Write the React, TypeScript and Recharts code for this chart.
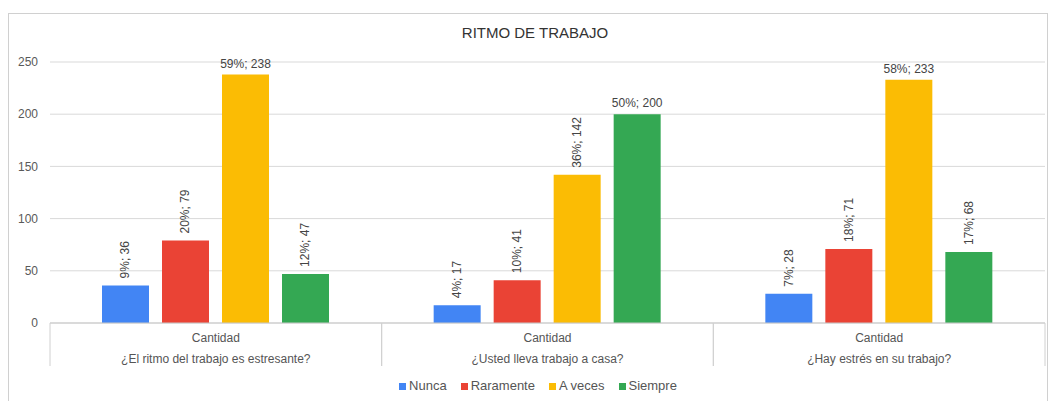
import React from 'react';
import { BarChart, Bar, XAxis, YAxis, CartesianGrid, Legend, LabelList } from 'recharts';

const CATEGORIES = ['¿El ritmo del trabajo es estresante?', '¿Usted lleva trabajo a casa?', '¿Hay estrés en su trabajo?'];
const SERIES = ['Nunca', 'Raramente', 'A veces', 'Siempre'];
const COLORS = ['#4285F4', '#EA4335', '#FBBC04', '#34A853'];

const NUNCA = [36, 17, 28];
const RARAMENTE = [79, 41, 71];
const A_VECES = [238, 142, 233];
const SIEMPRE = [47, 200, 68];

const NUNCA_PCT = [9, 4, 7];
const RARAMENTE_PCT = [20, 10, 18];
const A_VECES_PCT = [59, 36, 58];
const SIEMPRE_PCT = [12, 50, 17];

const Y_TICKS = [0, 50, 100, 150, 200, 250];

const VALUES = [NUNCA, RARAMENTE, A_VECES, SIEMPRE];
const PCTS = [NUNCA_PCT, RARAMENTE_PCT, A_VECES_PCT, SIEMPRE_PCT];
const KEYS = ['nunca', 'raramente', 'aveces', 'siempre'];

const data = CATEGORIES.map((q, i) => ({
  question: q,
  nunca: NUNCA[i],
  raramente: RARAMENTE[i],
  aveces: A_VECES[i],
  siempre: SIEMPRE[i],
}));

const W = 1049;
const H = 401;
const PLOT_LEFT = 50;
const PLOT_RIGHT = 1045;
const BAND = (PLOT_RIGHT - PLOT_LEFT) / CATEGORIES.length;

const QuestionTick = (props: any) => {
  const { x, y, payload } = props;
  return (
    <g>
      <line x1={x - BAND / 2} x2={x - BAND / 2} y1={y} y2={y + 43} stroke="#d0d0d0" />
      <line x1={x + BAND / 2} x2={x + BAND / 2} y1={y} y2={y + 43} stroke="#d0d0d0" />
      <text x={x} y={y + 19} textAnchor="middle" fontSize={12} fill="#555">Cantidad</text>
      <text x={x} y={y + 40} textAnchor="middle" fontSize={12} fill="#555">{payload.value}</text>
    </g>
  );
};

const makeLabel = (pcts: number[]) => (props: any) => {
  const { x, y, width, value, index } = props;
  const cx = x + width / 2;
  const txt = `${pcts[index]}%; ${value}`;
  if (value >= 190) {
    return (
      <text x={cx} y={y - 7} textAnchor="middle" fontSize={12} fill="#444">{txt}</text>
    );
  }
  return (
    <text
      x={cx}
      y={y - 7}
      transform={`rotate(-90 ${cx} ${y - 7})`}
      textAnchor="start"
      dominantBaseline="central"
      fontSize={12}
      fill="#444"
    >
      {txt}
    </text>
  );
};

const LegendContent = () => (
  <div style={{ display: 'flex', justifyContent: 'center', fontSize: 13, color: '#555', lineHeight: '16px' }}>
    {SERIES.map((s, i) => (
      <div key={s} style={{ display: 'flex', alignItems: 'center', marginRight: i < SERIES.length - 1 ? 14 : 0 }}>
        <span style={{ display: 'inline-block', width: 7, height: 7, background: COLORS[i], marginRight: 3 }} />
        <span>{s}</span>
      </div>
    ))}
  </div>
);

export default function App() {
  return (
    <div style={{ position: 'absolute', left: 0, top: 0, width: W, height: H, overflow: 'hidden', background: '#fff', fontFamily: '"Liberation Sans", Arial, sans-serif' }}>
      <div style={{ position: 'absolute', left: 8, top: 13, width: 1038, height: 400, border: '1px solid #d0d0d0' }} />
      <div style={{ position: 'absolute', left: 0, width: 1070, top: 24, textAlign: 'center', fontSize: 15, color: '#333' }}>
        RITMO DE TRABAJO
      </div>
      <BarChart
        width={W}
        height={H}
        data={data}
        margin={{ top: 62, right: W - PLOT_RIGHT, bottom: 28, left: 8 }}
        barSize={47}
        barGap={13}
      >
        <CartesianGrid vertical={false} stroke="#d9d9d9" />
        <XAxis
          dataKey="question"
          interval={0}
          height={50}
          tickLine={false}
          tickSize={0}
          tickMargin={0}
          stroke="#c8c8c8"
          tick={<QuestionTick />}
        />
        <YAxis
          width={42}
          domain={[0, 250]}
          ticks={Y_TICKS}
          axisLine={false}
          tickLine={false}
          tickMargin={6}
          tick={{ fontSize: 12, fill: '#595959' }}
        />
        <Legend
          verticalAlign="middle"
          layout="horizontal"
          content={<LegendContent />}
          wrapperStyle={{ position: 'absolute', top: 378, left: 0, width: 1076 }}
        />
        {KEYS.map((k, i) => (
          <Bar key={k} dataKey={k} name={SERIES[i]} fill={COLORS[i]} isAnimationActive={false}>
            <LabelList dataKey={k} content={makeLabel(PCTS[i])} />
          </Bar>
        ))}
      </BarChart>
    </div>
  );
}
